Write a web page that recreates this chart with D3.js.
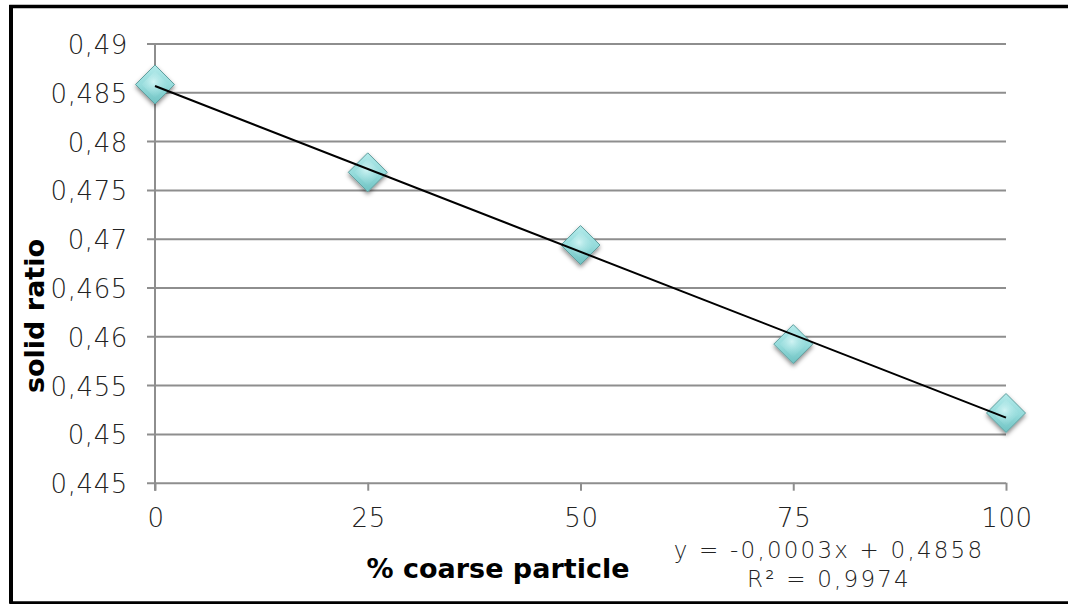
<!DOCTYPE html>
<html>
<head>
<meta charset="utf-8">
<script src="https://cdn.jsdelivr.net/npm/d3@7"></script>
<style>
  html, body { margin: 0; padding: 0; background: #fff; }
  svg { display: block; }
  .tick-label { font-family: "DejaVu Sans", sans-serif; font-weight: 200; fill: #222; }
  .axis-title { font-family: "DejaVu Sans", sans-serif; font-weight: bold; fill: #000; }
</style>
</head>
<body>
<svg id="chart" width="1068" height="604"></svg>
<script>
// Measured packing data: solid ratio against share of coarse particles
const coarsePct = [0, 25, 50, 75, 100];
const solidRatio = [0.4858, 0.4768, 0.46935, 0.4592, 0.45214];
const xTicks = [0, 25, 50, 75, 100];
const yTicks = [0.445, 0.45, 0.455, 0.46, 0.465, 0.47, 0.475, 0.48, 0.485, 0.49];
const equationLines = ["y = -0,0003x + 0,4858", "R\u00b2 = 0,9974"];
const xTitle = "% coarse particle";
const yTitle = "solid ratio";

const svg = d3.select("#chart");
const W = 1068, H = 604;

const x = d3.scaleLinear().domain([0, 100]).range([155, 1006]);
const y = d3.scaleLinear().domain([0.445, 0.49]).range([482.7, 43.5]);

const commaFmt = v => String(+v.toFixed(3)).replace(".", ",");

// Outer frame
svg.append("rect")
  .attr("x", 11).attr("y", 6.5)
  .attr("width", W + 20).attr("height", 596.5)
  .attr("fill", "none").attr("stroke", "#000").attr("stroke-width", 3.5);
svg.append("rect")
  .attr("x", 9).attr("y", 5).attr("width", 4).attr("height", 598).attr("fill", "#000");

const defs = svg.append("defs");
const grad = defs.append("linearGradient").attr("id", "gemFill")
  .attr("x1", 0).attr("y1", 0).attr("x2", 0).attr("y2", 1);
grad.append("stop").attr("offset", "0%").attr("stop-color", "#b3eaea");
grad.append("stop").attr("offset", "55%").attr("stop-color", "#93dada");
grad.append("stop").attr("offset", "100%").attr("stop-color", "#6fc2c2");
const hi = defs.append("radialGradient").attr("id", "gemHi")
  .attr("cx", 0.45).attr("cy", 0.4).attr("r", 0.6);
hi.append("stop").attr("offset", "0%").attr("stop-color", "#d6f6f6").attr("stop-opacity", 0.9);
hi.append("stop").attr("offset", "100%").attr("stop-color", "#9fe0e0").attr("stop-opacity", 0);
const shadow = defs.append("filter").attr("id", "gemShadow")
  .attr("x", "-50%").attr("y", "-50%").attr("width", "200%").attr("height", "200%");
shadow.append("feDropShadow").attr("dx", 0).attr("dy", 2.5)
  .attr("stdDeviation", 2).attr("flood-color", "#000").attr("flood-opacity", 0.45);

// Horizontal gridlines with left tick stubs
const grid = svg.append("g").attr("transform", `translate(${x(0)},0)`)
  .call(d3.axisLeft(y).tickValues(yTicks).tickSize(8).tickFormat(""));
grid.select(".domain").remove();
grid.selectAll(".tick line").attr("x2", x(100) - x(0))
  .attr("x1", -8).attr("stroke", "#8e8e8e").attr("stroke-width", 2);

// y tick labels
svg.append("g").selectAll("text").data(yTicks).join("text")
  .attr("class", "tick-label")
  .attr("x", 128).attr("y", d => y(d) + 1.5)
  .attr("text-anchor", "end").attr("dominant-baseline", "central")
  .attr("font-size", 26).attr("letter-spacing", 0.6)
  .text(commaFmt);

// Vertical axis line
svg.append("line")
  .attr("x1", x(0)).attr("x2", x(0)).attr("y1", y(0.49)).attr("y2", y(0.445) + 8)
  .attr("stroke", "#8e8e8e").attr("stroke-width", 2);

// x axis ticks
const xAxis = svg.append("g").attr("transform", `translate(0,${y(0.445)})`)
  .call(d3.axisBottom(x).tickValues(xTicks).tickSize(8).tickFormat(""));
xAxis.select(".domain").remove();
xAxis.selectAll(".tick line").attr("stroke", "#8e8e8e").attr("stroke-width", 2);

svg.append("g").selectAll("text").data(xTicks).join("text")
  .attr("class", "tick-label")
  .attr("x", d => x(d) + 1).attr("y", 518)
  .attr("text-anchor", "middle").attr("dominant-baseline", "central")
  .attr("font-size", 26).attr("letter-spacing", 0.6)
  .text(d => d);

// Least-squares trend line
const mx = d3.mean(coarsePct), my = d3.mean(solidRatio);
const slope = d3.sum(coarsePct, (v, i) => (v - mx) * (solidRatio[i] - my)) /
              d3.sum(coarsePct, v => (v - mx) ** 2);
const intercept = my - slope * mx;
const trend = [0, 100].map(v => [x(v), y(intercept + slope * v)]);

// Diamond markers
const R = 19.5;
const gem = svg.append("g").selectAll("g").data(coarsePct).join("g")
  .attr("transform", (d, i) => `translate(${x(d)},${y(solidRatio[i])})`)
  .attr("filter", "url(#gemShadow)");
gem.append("path").attr("d", `M0,${-R}L${R},0L0,${R}L${-R},0Z`)
  .attr("fill", "url(#gemFill)").attr("stroke", "#5f9e9e").attr("stroke-width", 1);
gem.append("path").attr("d", `M0,${-R + 6}L${R - 6},0L0,${R - 6}L${-R + 6},0Z`)
  .attr("fill", "url(#gemHi)");

// Trend line is drawn over the markers
svg.append("path").attr("d", d3.line()(trend))
  .attr("stroke", "#000").attr("stroke-width", 2).attr("fill", "none");

// Axis titles
svg.append("text").attr("class", "axis-title")
  .attr("x", 498).attr("y", 578).attr("text-anchor", "middle")
  .attr("font-size", 27).text(xTitle);
svg.append("text").attr("class", "axis-title")
  .attr("transform", "translate(44,316) rotate(-90)")
  .attr("text-anchor", "middle").attr("font-size", 27).text(yTitle);

// Trend equation
svg.append("g").selectAll("text").data(equationLines).join("text")
  .attr("class", "tick-label")
  .attr("x", 829).attr("y", (d, i) => 558 + i * 29)
  .attr("text-anchor", "middle").attr("font-size", 23).attr("letter-spacing", 2.2)
  .text(d => d);
</script>
</body>
</html>
